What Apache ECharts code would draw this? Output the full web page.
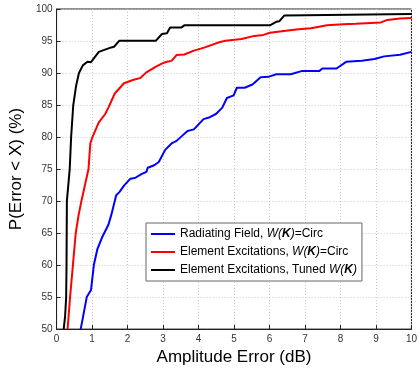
<!DOCTYPE html>
<html><head><meta charset="utf-8">
<script src="https://cdn.jsdelivr.net/npm/echarts@6/dist/echarts.min.js"></script>
<style>html,body{margin:0;padding:0;background:#fff}#c{width:420px;height:371px}</style>
</head><body><div id="c"></div>
<script>
var xTicks = [0,1,2,3,4,5,6,7,8,9,10];
var yTicks = [50,55,60,65,70,75,80,85,90,95,100];
var seriesNames = ["Radiating Field, W(K)=Circ", "Element Excitations, W(K)=Circ", "Element Excitations, Tuned W(K)"];
var radiatingCirc = [[0.68,50],[0.85,55],[0.97,56.1],[1.05,60],[1.15,62.5],[1.28,64.3],[1.46,66.3],[1.54,67.8],[1.68,70.9],[1.77,71.4],[1.9,72.4],[2.08,73.5],[2.21,73.6],[2.39,74.2],[2.53,74.55],[2.57,75.2],[2.75,75.6],[2.88,76.1],[3.06,78.0],[3.24,79.0],[3.38,79.4],[3.56,80.3],[3.69,80.95],[3.87,81.2],[4.14,82.8],[4.32,83.1],[4.49,83.6],[4.67,84.6],[4.8,86.1],[4.99,86.5],[5.08,87.7],[5.3,87.7],[5.52,88.2],[5.75,89.35],[5.97,89.4],[6.19,89.8],[6.6,89.8],[6.9,90.3],[7.4,90.3],[7.49,90.7],[7.89,90.7],[8.16,91.75],[8.6,91.9],[8.96,92.2],[9.23,92.6],[9.68,92.85],[10,93.3]];
var elementCirc = [[0.31,50],[0.38,55],[0.46,60],[0.54,65],[0.62,67.8],[0.70,70],[0.80,72.5],[0.90,75],[0.95,79],[1.01,80],[1.19,82.3],[1.37,83.6],[1.46,84.6],[1.64,86.8],[1.9,88.4],[2.17,88.95],[2.35,89.2],[2.53,90.1],[2.8,91.0],[2.98,91.5],[3.11,91.75],[3.24,91.9],[3.38,92.8],[3.6,92.9],[3.87,93.5],[4.18,94.0],[4.58,94.8],[4.76,95.05],[5.21,95.3],[5.57,95.8],[5.83,95.95],[6.01,96.3],[6.46,96.6],[6.82,96.85],[7.17,97.0],[7.62,97.45],[8.07,97.6],[8.43,97.7],[9.14,97.9],[9.32,98.3],[9.68,98.5],[10,98.6]];
var elementTuned = [[0.2,50],[0.24,52],[0.27,55],[0.28,60],[0.29,70],[0.37,75],[0.41,80],[0.47,85],[0.55,88],[0.63,90],[0.74,91.2],[0.87,91.75],[0.97,91.7],[1.05,92.3],[1.19,93.3],[1.54,94.0],[1.62,94.1],[1.77,95.05],[2.8,95.05],[2.97,96.1],[3.11,96.2],[3.2,97.1],[3.51,97.1],[3.6,97.45],[6.01,97.45],[6.19,98.0],[6.28,98.1],[6.42,99.0],[6.46,99.2],[10,99.2]];

var FONT = "'Liberation Sans', Arial, sans-serif";
var legendRich = {
  n: {fontFamily: FONT, fontSize: 12, color: '#000'},
  i: {fontFamily: FONT, fontSize: 12, color: '#000', fontStyle: 'italic'},
  b: {fontFamily: FONT, fontSize: 12, color: '#000', fontStyle: 'italic', fontWeight: 'bold'}
};
function legendFmt(name) {
  var m = name.match(/^(.*)W\(K\)(.*)$/);
  if (!m) return '{n|' + name + '}';
  var s = '{n|' + m[1] + '}{i|W(}{b|K}{i|)}';
  if (m[2]) s += '{n|' + m[2] + '}';
  return s;
}
var chart = echarts.init(document.getElementById('c'), null, {renderer: 'canvas'});
var colors = ['#0000ff', '#ff0000', '#000000'];
var datasets = [radiatingCirc, elementCirc, elementTuned];
chart.setOption({
  animation: false,
  backgroundColor: '#fff',
  grid: {left: 46, top: 9, right: 2, bottom: 34, show: true, borderColor: '#222', borderWidth: 1, containLabel: false},
  xAxis: {
    type: 'value', min: 0, max: 10, interval: 1,
    name: 'Amplitude Error (dB)', nameLocation: 'middle', nameGap: 10,
    nameTextStyle: {fontFamily: FONT, fontSize: 17, color: '#000', verticalAlign: 'top'},
    axisLine: {show: true, lineStyle: {color: '#222', width: 1}},
    axisTick: {show: true, inside: true, length: 4, lineStyle: {color: '#222'}},
    axisLabel: {fontFamily: FONT, fontSize: 10, color: '#333', margin: 5,
      formatter: function(v){ return xTicks.indexOf(v) >= 0 ? String(v) : ''; }},
    splitLine: {show: true, lineStyle: {color: '#c8c8c8', type: [1, 2], width: 1}}
  },
  yAxis: {
    type: 'value', min: 50, max: 100, interval: 5,
    name: 'P(Error < X) (%)', nameLocation: 'middle', nameGap: 22,
    nameTextStyle: {fontFamily: FONT, fontSize: 17, color: '#000'},
    axisLine: {show: true, lineStyle: {color: '#222', width: 1}},
    axisTick: {show: true, inside: true, length: 4, lineStyle: {color: '#222'}},
    axisLabel: {fontFamily: FONT, fontSize: 10, color: '#333', margin: 4,
      formatter: function(v){ return yTicks.indexOf(v) >= 0 ? String(v) : ''; }},
    splitLine: {show: true, lineStyle: {color: '#c8c8c8', type: [1, 2], width: 1}}
  },
  legend: {
    orient: 'vertical', left: 146, top: 223,
    backgroundColor: '#fff', borderColor: '#666', borderWidth: 1, borderRadius: 0,
    padding: [4, 5, 4, 5], itemGap: 4, itemWidth: 24, itemHeight: 14,
    data: seriesNames.map(function(n){ return {name: n, icon: 'path://M0,6 L24,6 L24,8 L0,8 Z'}; }),
    formatter: legendFmt,
    textStyle: {fontFamily: FONT, fontSize: 12, color: '#000', lineHeight: 14, rich: legendRich}
  },
  series: seriesNames.map(function(n, k){
    return {name: n, type: 'line', data: datasets[k], symbol: 'none', clip: true,
      color: colors[k], lineStyle: {color: colors[k], width: 2}, z: 3 - k};
  })
});
</script></body></html>
